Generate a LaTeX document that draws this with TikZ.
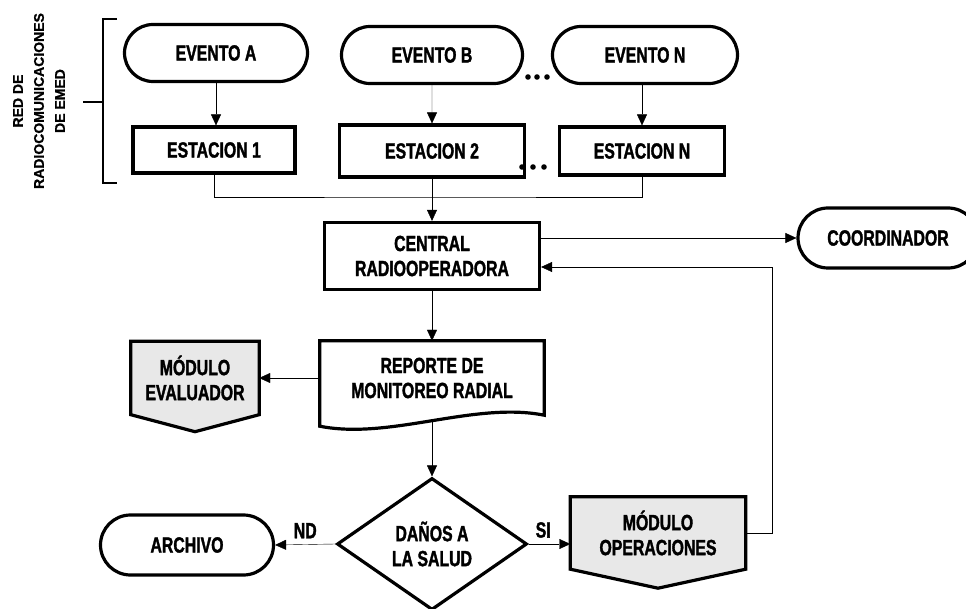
\documentclass[tikz,border=0pt]{standalone}
\usepackage{fontspec}
\newfontfamily\narrowfont[FakeStretch=0.72,BoldFeatures={FakeBold=1.5}]{Liberation Sans}
\newfontfamily\sidefont[BoldFeatures={FakeBold=1}]{Liberation Sans}
\usetikzlibrary{shapes.misc,shapes.geometric,arrows.meta}
\newcommand\cajafont{\narrowfont\bfseries\fontsize{22}{25}\selectfont}
\pgfdeclarelayer{fondo}
\pgfsetlayers{fondo,main}

\begin{document}
\begin{tikzpicture}[x=1pt,y=-1pt,line width=2.4pt,
  txt/.style={font=\cajafont,align=center,inner sep=0pt},
  pill/.style={txt,rounded rectangle,draw,line width=3.2pt,minimum height=57pt},
  caja/.style={txt,rectangle,draw,line width=3.2pt},
  flecha/.style={-{Triangle[length=11pt,width=10pt]}}]
\useasboundingbox (0,0) rectangle (966,609);
\clip (0,0) rectangle (966,609);

% red de radiocomunicaciones
\node[rotate=90,align=center,inner sep=0pt,
      font=\sidefont\bfseries\fontsize{14}{21}\selectfont] (red) at (39,101)
      {RED DE\\RADIOCOMUNICACIONES\\DE EMED};
\draw[line width=1.6pt] (117,19) -- (103,19) -- (103,183) -- (117,183)
          (103,102) -- (83,102);

% eventos y estaciones
\node[pill,minimum width=183pt] (evA) at (216,53) {EVENTO A};
\node[pill,minimum width=181pt] (evB) at (432,55) {EVENTO B};
\node[pill,minimum width=185pt] (evN) at (645,55) {EVENTO N};
\node[caja,minimum width=162pt,minimum height=46pt] (est1) at (214,150) {ESTACION 1};
\node[caja,minimum width=185pt,minimum height=52pt] (est2) at (432,151) {ESTACION 2};
\node[caja,minimum width=165pt,minimum height=48pt] (estN) at (642,151) {ESTACION N};
\foreach \x in {528,537,547} \fill (\x,77) circle (2.8pt);
\foreach \x in {522,533,544} \fill (\x,167) circle (2.8pt);

\node[caja,minimum width=215pt,minimum height=67pt] (cen) at (432,256) {CENTRAL\\RADIOOPERADORA};
\node[pill,minimum width=180pt,minimum height=60pt] (coord) at (888,238) {COORDINADOR};

% reporte y modulos
\node[txt,minimum width=222pt,minimum height=72pt] (rep) at (432,378) {REPORTE DE\\MONITOREO RADIAL};
\draw[line width=3.2pt] (rep.south west) -- (rep.north west) -- (rep.north east) -- (rep.south east)
      .. controls +(-70,-14) and +(70,14) .. ([yshift=-11pt]rep.south west) -- cycle;
\node[txt,minimum width=126pt,minimum height=71pt] (eval) at (195,378) {MÓDULO\\EVALUADOR};
\node[txt,diamond,draw,line width=3.2pt,minimum width=190pt,minimum height=132pt] (dec) at (432,544) {DAÑOS A\\LA SALUD};
\node[pill,minimum width=173pt,minimum height=60pt] (arch) at (187,545) {ARCHIVO};
\node[txt,minimum width=173pt,minimum height=70pt] (ops) at (658,533) {MÓDULO\\OPERACIONES};
\begin{pgfonlayer}{fondo}
\foreach \m/\d in {eval/17,ops/19}
  \draw[line width=3.2pt,fill=black!9] (\m.north west) -- (\m.north east) -- (\m.south east)
        -- ([yshift=-\d pt]\m.south) -- (\m.south west) -- cycle;
\end{pgfonlayer}

% conectores
\coordinate (bus) at (432,197);
\coordinate (ret) at (772,267);
\draw[flecha] (evA.south) -- (evA.south |- est1.north);
\draw[flecha] (evB) -- (est2);
\draw[flecha] (estN.north |- evN.south) -- (estN.north);
\draw (est1.south) |- (bus) -| (estN.south);
\draw[flecha] (est2) -- (cen);
\draw[flecha] (cen.east |- coord) -- (coord);
\draw[flecha] (ops.east) -| (ret) -- (cen.east |- ret);
\draw[flecha] (cen) -- (rep);
\draw[flecha] (rep.west) -- (eval.east);
\draw[flecha] ([yshift=-6pt]rep.south) -- (dec.north);
\draw[flecha] (dec.west) -- node[txt,above=6pt] {ND} (arch.east);
\draw[flecha] (dec.east) -- node[txt,above=6pt,pos=.35] {SI} (dec.east -| ops.west);
\end{tikzpicture}
\end{document}
